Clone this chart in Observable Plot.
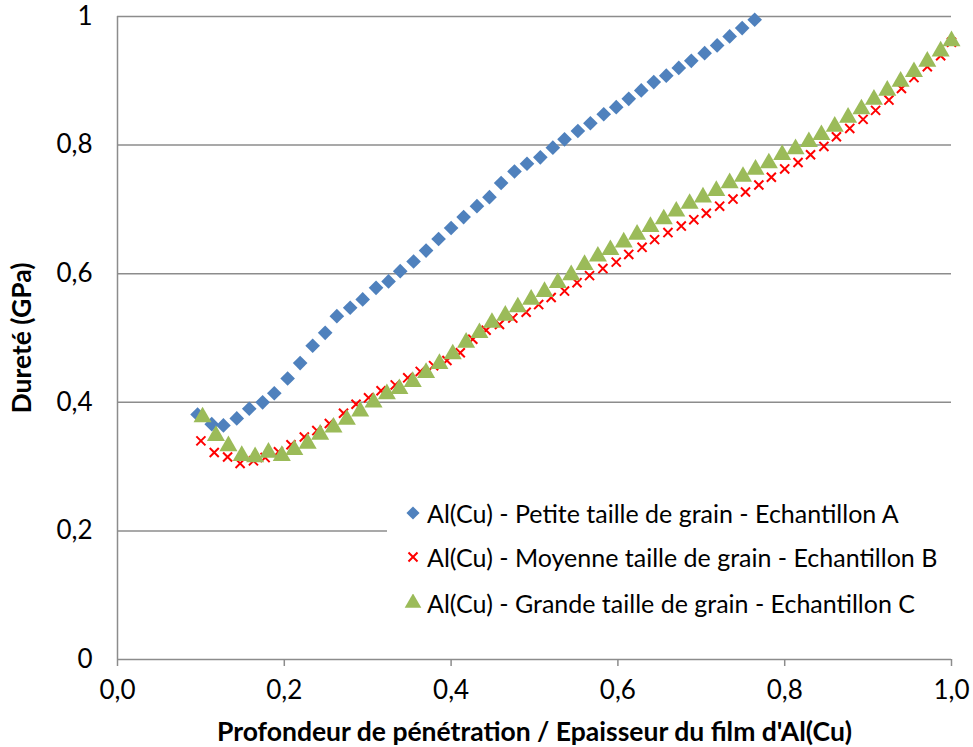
<!DOCTYPE html>
<html><head><meta charset="utf-8">
<script src="https://cdn.jsdelivr.net/npm/d3@7"></script>
<script src="https://cdn.jsdelivr.net/npm/@observablehq/plot@0.6"></script>
<style>
body{margin:0;background:#fff;}
#wrap{position:relative;width:973px;height:747px;font-family:Lato,"Open Sans",sans-serif;}
#legend{position:absolute;left:387px;top:490px;width:568px;height:136px;background:#fff;}
.row{position:absolute;left:0;height:30px;display:flex;align-items:center;font-size:25px;color:#000;white-space:nowrap;}
.row svg{margin-left:17px;margin-right:5px;}
</style></head><body>
<div id="wrap"><div id="chart"></div><div id="legend"></div></div>
<script>
const seriesNames = [
  "Al(Cu) - Petite taille de grain - Echantillon A",
  "Al(Cu) - Moyenne taille de grain - Echantillon B",
  "Al(Cu) - Grande taille de grain - Echantillon C"
];
const xA = [0.096,0.113,0.127,0.143,0.158,0.174,0.188,0.204,0.219,0.234,0.249,0.263,0.279,0.294,0.310,0.325,0.339,0.355,0.370,0.385,0.400,0.415,0.431,0.446,0.460,0.476,0.491,0.507,0.522,0.536,0.552,0.567,0.583,0.598,0.613,0.628,0.643,0.658,0.673,0.688,0.704,0.719,0.734,0.749,0.764];
const yA = [0.381,0.366,0.364,0.375,0.390,0.400,0.414,0.437,0.461,0.488,0.508,0.534,0.547,0.560,0.578,0.588,0.604,0.619,0.636,0.654,0.671,0.688,0.705,0.719,0.741,0.759,0.771,0.781,0.796,0.809,0.822,0.834,0.848,0.859,0.872,0.885,0.898,0.908,0.920,0.931,0.943,0.955,0.969,0.982,0.995];
const xB = [0.100,0.116,0.132,0.147,0.163,0.177,0.193,0.208,0.224,0.239,0.254,0.271,0.286,0.301,0.316,0.333,0.348,0.363,0.379,0.395,0.411,0.426,0.442,0.458,0.474,0.490,0.505,0.520,0.536,0.551,0.566,0.582,0.598,0.613,0.629,0.644,0.660,0.676,0.691,0.706,0.722,0.738,0.753,0.769,0.784,0.800,0.816,0.831,0.847,0.862,0.878,0.894,0.909,0.925,0.940,0.955,0.971,0.987,1.000];
const yB = [0.340,0.322,0.315,0.305,0.309,0.314,0.323,0.334,0.346,0.356,0.367,0.383,0.397,0.407,0.418,0.427,0.438,0.448,0.457,0.465,0.477,0.498,0.512,0.521,0.531,0.540,0.552,0.563,0.573,0.586,0.597,0.608,0.618,0.630,0.641,0.653,0.664,0.674,0.684,0.694,0.705,0.716,0.727,0.738,0.750,0.763,0.773,0.785,0.798,0.813,0.826,0.840,0.854,0.870,0.888,0.905,0.922,0.939,0.960];
const xC = [0.102,0.118,0.133,0.149,0.165,0.181,0.197,0.212,0.228,0.243,0.259,0.275,0.291,0.307,0.323,0.338,0.354,0.370,0.386,0.402,0.418,0.434,0.449,0.465,0.480,0.496,0.512,0.528,0.544,0.560,0.576,0.591,0.607,0.623,0.639,0.655,0.670,0.686,0.702,0.718,0.734,0.750,0.765,0.781,0.797,0.813,0.829,0.844,0.860,0.876,0.892,0.907,0.923,0.939,0.955,0.971,0.987,1.000];
const yC = [0.377,0.348,0.332,0.317,0.315,0.322,0.317,0.326,0.336,0.350,0.361,0.373,0.386,0.400,0.413,0.421,0.432,0.446,0.460,0.475,0.493,0.508,0.524,0.535,0.548,0.560,0.572,0.586,0.598,0.614,0.627,0.637,0.649,0.661,0.673,0.685,0.697,0.709,0.719,0.729,0.741,0.751,0.762,0.772,0.785,0.794,0.805,0.816,0.829,0.843,0.856,0.871,0.885,0.899,0.914,0.930,0.946,0.962];
const xTicks = [0,0.2,0.4,0.6,0.8,1.0];
const yTicks = [0,0.2,0.4,0.6,0.8,1];
const xTitle = "Profondeur de pénétration / Epaisseur du film d'Al(Cu)";
const yTitle = "Dureté (GPa)";
const colors = ["#4F81BD","#FF0000","#9BBB59"];

const A = xA.map((x,i)=>({x, y:yA[i]}));
const B = xB.map((x,i)=>({x, y:yB[i]}));
const C = xC.map((x,i)=>({x, y:yC[i]}));
const grid = "#8c8c8c";

const chart = Plot.plot({
  width: 973, height: 747,
  marginTop: 16, marginBottom: 88, marginLeft: 117, marginRight: 22,
  style: {fontFamily: "Lato, 'Open Sans', sans-serif", background: "#fff", overflow: "visible"},
  x: {domain: [0,1]},
  y: {domain: [0,1]},
  marks: [
    Plot.ruleY(yTicks.filter(d=>d>0), {stroke: grid, strokeWidth: 1.5}),
    Plot.ruleY([0], {stroke: grid, strokeWidth: 1.5}),
    Plot.ruleX([0], {stroke: grid, strokeWidth: 1.5}),
    Plot.axisX({ticks: xTicks, tickSize: 7, tickPadding: 14, stroke: grid, strokeWidth: 1.5, fontSize: 26, fill: "#000",
      tickFormat: d => d.toFixed(1).replace(".", ","), label: null}),
    Plot.axisY({ticks: yTicks, tickSize: 0, tickPadding: 25, fontSize: 26, fill: "#000",
      tickFormat: d => String(d).replace(".", ","), label: null}),
    Plot.dot(A, {x: "x", y: "y", symbol: "diamond2", fill: colors[0], r: 6.6}),
    Plot.dot(B, {x: "x", y: "y", symbol: "times", stroke: colors[1], strokeWidth: 2, r: 4.2}),
    Plot.dot(C, {x: "x", y: "y", symbol: "triangle", fill: colors[2], r: 6.7}),
    Plot.text([xTitle], {frameAnchor: "bottom", dy: 73, textAnchor: "middle", lineAnchor: "middle", fontSize: 26.5, fontWeight: "bold", fill: "#000"}),
    Plot.text([yTitle], {frameAnchor: "left", dx: -95, textAnchor: "middle", lineAnchor: "middle", rotate: -90, fontSize: 26.5, fontWeight: "bold", fill: "#000"})
  ]
});
document.getElementById("chart").appendChild(chart);

const leg = document.getElementById("legend");
const rowTops = [8, 52, 98];
seriesNames.forEach((name, i) => {
  const row = document.createElement("div");
  row.className = "row";
  row.style.top = rowTops[i] + "px";
  const s = d3.create("svg").attr("width", 18).attr("height", 18);
  const p = s.append("path").attr("transform", "translate(9,9)");
  if (i === 0) p.attr("d", d3.symbol(d3.symbolDiamond2, 110)()).attr("fill", colors[0]);
  if (i === 1) p.attr("d", d3.symbol(d3.symbolTimes, 55)()).attr("fill", "none").attr("stroke", colors[1]).attr("stroke-width", 2);
  if (i === 2) p.attr("d", d3.symbol(d3.symbolTriangle, 120)()).attr("fill", colors[2]);
  row.appendChild(s.node());
  const t = document.createElement("span");
  t.textContent = name;
  row.appendChild(t);
  leg.appendChild(row);
});
</script>
</body></html>
